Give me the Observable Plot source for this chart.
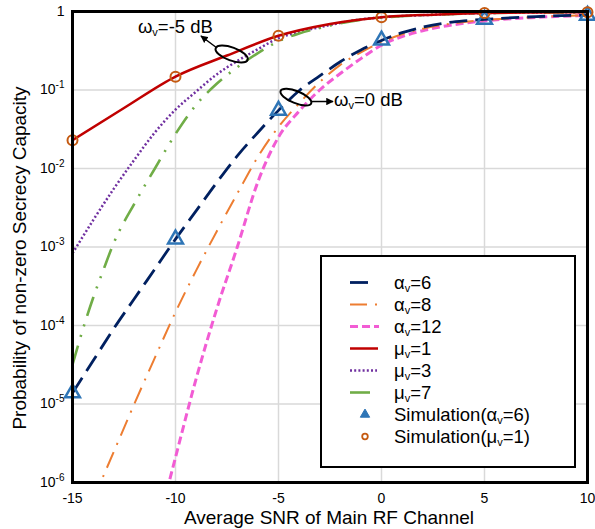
<!DOCTYPE html>
<html><head><meta charset="utf-8">
<script src="https://cdn.jsdelivr.net/npm/d3@7"></script>
<script src="https://cdn.jsdelivr.net/npm/@observablehq/plot@0.6"></script>
<style>
body{margin:0;background:#fff;}
#chart{width:595px;height:529px;}
</style></head><body><div id="chart"></div>
<script>
// ---- ticks ----
const xTicks = [-15, -10, -5, 0, 5, 10];
const yTicks = [1e-6, 1e-5, 1e-4, 1e-3, 1e-2, 1e-1, 1];

// ---- series ----
const snrA6 = [-15,-14,-13,-12,-11,-10,-9,-8,-7,-6,-5,-4,-3,-2,-1,0,1,2,3,4,5,7.5,10];
const pA6   = [1.38e-5,3.55e-5,9.1e-5,2.19e-4,5.25e-4,1.26e-3,2.88e-3,6.61e-3,0.0145,0.0288,0.055,0.0977,0.151,0.229,0.324,0.427,0.537,0.631,0.708,0.759,0.794,0.861,0.902];

const snrA8 = [-14,-13,-12,-11,-10,-9,-8,-7,-6,-5,-4,-3,-2,-1,0,1,2,3,4,5,7.5,10];
const pA8   = [6.0e-7,2.45e-6,1.0e-5,3.89e-5,1.48e-4,5.0e-4,1.58e-3,4.79e-3,0.0141,0.0339,0.0676,0.126,0.209,0.302,0.407,0.513,0.603,0.676,0.733,0.776,0.851,0.895];

const snrA12 = [-11,-10,-9,-8,-7,-6,-5,-4,-3,-2,-1,0,1,2,3,4,5,7.5,10];
const pA12   = [2.0e-7,2.09e-6,2.09e-5,1.62e-4,1.0e-3,6.76e-3,0.0251,0.0537,0.1,0.162,0.251,0.372,0.479,0.569,0.646,0.708,0.759,0.841,0.891];

const snrM1 = [-15,-12.5,-10,-7.5,-5,-2.5,0,2.5,5,7.5,10];
const pM1   = [0.0229,0.0589,0.148,0.275,0.49,0.692,0.845,0.912,0.955,0.973,0.977];

const snrM3 = [-15,-14,-13,-12,-11,-10,-9,-8,-7,-6,-5,-4,-3,-2,-1,0,2.5,5,7.5,10];
const pM3   = [8.3e-4,2.19e-3,5.5e-3,0.0129,0.0288,0.0562,0.0955,0.158,0.234,0.331,0.457,0.55,0.631,0.716,0.794,0.841,0.91,0.954,0.972,0.977];

const snrM7 = [-15,-14.5,-14,-13.5,-13,-12,-11,-10,-9,-8,-7,-6,-5,-4,-3,-2,-1,0,2.5,5,7.5,10];
const pM7   = [3.16e-5,8.9e-5,2.24e-4,5.1e-4,1.12e-3,3.55e-3,0.01,0.0275,0.0646,0.12,0.195,0.295,0.417,0.525,0.617,0.708,0.785,0.836,0.908,0.953,0.971,0.977];

const snrSim  = [-15, -10, -5, 0, 5, 10];
const pSimA6  = [1.38e-5, 1.26e-3, 0.055, 0.43, 0.79, 0.89];
const pSimM1  = [0.0229, 0.148, 0.49, 0.845, 0.96, 0.977];

const legendLabels = [
  ["α","v","=6"], ["α","v","=8"], ["α","v","=12"],
  ["μ","v","=1"], ["μ","v","=3"], ["μ","v","=7"],
  ["Simulation(α","v","=6)"], ["Simulation(μ","v","=1)"]
];
const annoLabels = [["ω","v","=-5 dB"], ["ω","v","=0 dB"]];
const xTitle = "Average SNR of Main RF Channel";
const yTitle = "Probability of non-zero Secrecy Capacity";

// ---- styles ----
const FONT = "'Liberation Sans', Arial, sans-serif";
const S = {
  a6:  {stroke:"#002060", strokeWidth:2.8, strokeDasharray:"18,8"},
  a8:  {stroke:"#ed7d31", strokeWidth:2,   strokeDasharray:"17,8,2,8"},
  a12: {stroke:"#f25cd4", strokeWidth:3,   strokeDasharray:"8,4"},
  m1:  {stroke:"#c00000", strokeWidth:2.5},
  m3:  {stroke:"#7030a0", strokeWidth:2.5, strokeDasharray:"2,2.2"},
  m7:  {stroke:"#70ad47", strokeWidth:2.6, strokeDasharray:"20,9,2,9,2,9"}
};
const toRows = (xs, ps) => xs.map((x, i) => ({snr: x, p: ps[i]}));
const lineOpts = st => ({x:"snr", y:"p", curve:"monotone-x", clip:true, strokeLinecap:"butt", strokeLinejoin:"round", ...st});

const plot = Plot.plot({
  width: 595, height: 529,
  marginLeft: 72, marginRight: 8, marginTop: 11, marginBottom: 47,
  style: {fontFamily: FONT, fontSize: "14px", background: "#fff", color: "#000", overflow: "visible"},
  x: {domain: [-15, 10]},
  y: {type: "log", domain: [1e-6, 1]},
  marks: [
    Plot.gridX(xTicks, {stroke:"#d9d9d9", strokeOpacity:1, strokeWidth:1.5}),
    Plot.gridY(yTicks, {stroke:"#d9d9d9", strokeOpacity:1, strokeWidth:1.5}),
    Plot.line(toRows(snrM3, pM3), lineOpts(S.m3)),
    Plot.line(toRows(snrM7, pM7), lineOpts(S.m7)),
    Plot.line(toRows(snrA12, pA12), lineOpts(S.a12)),
    Plot.line(toRows(snrA8, pA8), lineOpts(S.a8)),
    Plot.line(toRows(snrA6, pA6), lineOpts(S.a6)),
    Plot.line(toRows(snrM1, pM1), lineOpts(S.m1)),
    Plot.dot(toRows(snrSim, pSimA6), {x:"snr", y:"p", symbol:"triangle", r:5.5, stroke:"#2e75b6", strokeWidth:2.5, fill:"none"}),
    Plot.dot(toRows(snrSim, pSimM1), {x:"snr", y:"p", symbol:"circle", r:5, stroke:"#c55a11", strokeWidth:2, fill:"none"}),
    Plot.frame({stroke:"#000", strokeWidth:3}),
    Plot.axisX({ticks: xTicks, tickSize: 0, tickPadding: 11, fontSize: 14, label: null, tickFormat: d => String(d)}),
    Plot.axisY({ticks: yTicks, tickSize: 0, tickPadding: 8, fontSize: 14, label: null,
      tickFormat: d => d === 1 ? "1" : "10^" + Math.round(Math.log10(d))})
  ]
});
document.getElementById("chart").appendChild(plot);

const svg = d3.select(plot);
const sx = plot.scale("x"), sy = plot.scale("y");
const X = v => sx.apply(v), Y = v => sy.apply(v);

// superscript exponents on y tick labels
svg.selectAll('g[aria-label="y-axis tick label"] text').each(function() {
  const t = d3.select(this);
  const s = t.text();
  if (s.startsWith("10^")) {
    t.text("");
    t.append("tspan").text("10");
    t.append("tspan").attr("font-size", 10).attr("dy", -6).text(s.slice(3));
  }
});

function subText(sel, parts, subSize, drop) {
  sel.append("tspan").text(parts[0]);
  sel.append("tspan").attr("font-size", subSize).attr("dy", drop).text(parts[1]);
  sel.append("tspan").attr("dy", -drop).text(parts[2]);
}

// axis titles
svg.append("text").attr("x", 329).attr("y", 523.5).attr("text-anchor", "middle")
  .attr("font-size", 19).attr("font-family", FONT).attr("fill", "#000").text(xTitle);
svg.append("text").attr("transform", "translate(26,258) rotate(-90)").attr("text-anchor", "middle")
  .attr("font-size", 19).attr("font-family", FONT).attr("fill", "#000").text(yTitle);

// annotations (anchored in data units through the scales)
const defs = svg.append("defs");
defs.append("marker").attr("id", "ah").attr("viewBox", "0 0 10 10").attr("refX", 9).attr("refY", 5)
  .attr("markerWidth", 5).attr("markerHeight", 5).attr("orient", "auto")
  .append("path").attr("d", "M0,0L10,5L0,10z").attr("fill", "#000");
const anno = [
  {ex:-7.25, ey:0.283, rx:17, ry:6.5, rot:20, a0:[-7.96,0.338], a1:[-8.74,0.48], tx:-11.8, ty:0.525},
  {ex:-4.13, ey:0.080, rx:16.5, ry:6, rot:22, a0:[-3.35,0.0703], a1:[-2.33,0.0703], tx:-2.28, ty:0.0617}
];
anno.forEach((a, i) => {
  svg.append("ellipse").attr("cx", X(a.ex)).attr("cy", Y(a.ey)).attr("rx", a.rx).attr("ry", a.ry)
    .attr("transform", `rotate(${a.rot},${X(a.ex)},${Y(a.ey)})`)
    .attr("fill", "none").attr("stroke", "#000").attr("stroke-width", 2);
  svg.append("line").attr("x1", X(a.a0[0])).attr("y1", Y(a.a0[1])).attr("x2", X(a.a1[0])).attr("y2", Y(a.a1[1]))
    .attr("stroke", "#000").attr("stroke-width", 1.5).attr("marker-end", "url(#ah)");
  const t = svg.append("text").attr("x", X(a.tx)).attr("y", Y(a.ty)).attr("font-size", 18.5)
    .attr("text-anchor", "start").attr("font-family", FONT).attr("fill", "#000");
  subText(t, annoLabels[i], 11, 3);
});

// legend
const lg = svg.append("g").attr("font-family", FONT).attr("font-size", 18.5).attr("text-anchor", "start");
lg.append("rect").attr("x", 321).attr("y", 256).attr("width", 254).attr("height", 211)
  .attr("fill", "#fff").attr("stroke", "#000").attr("stroke-width", 2);
const samples = [S.a6, S.a8, S.a12, S.m1, S.m3, S.m7];
const sampleLen = [22, 29, 29, 28, 27, 22];
legendLabels.forEach((lab, i) => {
  const cy = 282.5 + i * 22;
  if (i < 6) {
    const st = samples[i];
    lg.append("line").attr("x1", 350).attr("x2", 350 + sampleLen[i]).attr("y1", cy).attr("y2", cy)
      .attr("stroke", st.stroke).attr("stroke-width", st.strokeWidth)
      .attr("stroke-dasharray", st.strokeDasharray || null);
  } else if (i === 6) {
    lg.append("path").attr("d", d3.symbol(d3.symbolTriangle, 38)()).attr("transform", `translate(365,${cy})`)
      .attr("fill", "#2e75b6").attr("stroke", "#2e75b6").attr("stroke-width", 1);
  } else {
    lg.append("circle").attr("cx", 365).attr("cy", cy).attr("r", 2.8).attr("fill", "none")
      .attr("stroke", "#c55a11").attr("stroke-width", 1.8);
  }
  const t = lg.append("text").attr("x", 394).attr("y", cy + 6.5).attr("fill", "#000").attr("text-anchor", "start");
  subText(t, lab, 11, 3);
});
</script></body></html>
